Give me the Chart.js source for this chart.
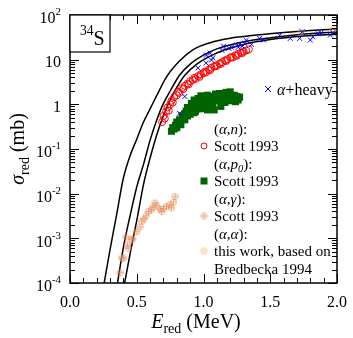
<!DOCTYPE html>
<html>
<head>
<meta charset="utf-8">
<script src="https://cdn.jsdelivr.net/npm/chart.js@4"></script>
<style>
body { margin: 0; background: #fff; }
canvas { display: block; }
</style>
</head>
<body>
<canvas id="myChart" width="353" height="338"></canvas>
<script>
// theory curves
const curveAE = [0.25, 0.30, 0.35, 0.40, 0.45, 0.50, 0.55, 0.60, 0.65, 0.72, 0.82, 0.92, 1.05, 1.2, 1.4, 1.6, 1.8, 2.0];
const curveAS = [7.9e-5, 5.6e-4, 3.5e-3, 0.0224, 0.0708, 0.166, 0.398, 0.794, 1.58, 3.98, 9.3, 16.6, 24, 30.2, 35.5, 40.7, 44.7, 49];
const curveBE = [0.35, 0.40, 0.45, 0.50, 0.55, 0.60, 0.65, 0.70, 0.76, 0.82, 0.90, 1.0, 1.1, 1.25, 1.45, 1.7, 2.0];
const curveBS = [7.9e-5, 6.3e-4, 3.2e-3, 0.0141, 0.0447, 0.158, 0.447, 1.05, 2.24, 4.47, 7.94, 12.6, 17.4, 23.4, 29.5, 36.3, 41.7];
const curveCE = [0.40, 0.45, 0.50, 0.55, 0.60, 0.65, 0.70, 0.75, 0.80, 0.86, 0.95, 1.05, 1.15, 1.3, 1.5, 1.75, 2.0];
const curveCS = [7.1e-5, 4.5e-4, 2.5e-3, 0.0158, 0.063, 0.209, 0.562, 1.26, 2.4, 4.47, 7.94, 12.0, 16.2, 21.9, 28.2, 33.9, 37.2];

// (a,n) Scott 1993
const redE = [0.69, 0.70, 0.71, 0.72, 0.73, 0.74, 0.75, 0.76, 0.77, 0.78, 0.80, 0.81, 0.82, 0.84, 0.85, 0.86, 0.88, 0.89, 0.90, 0.92, 0.93, 0.94, 0.96, 0.97, 0.98, 1.00, 1.01, 1.02, 1.04, 1.05, 1.06, 1.08, 1.09, 1.10, 1.12, 1.13, 1.14, 1.16, 1.17, 1.18, 1.20, 1.21, 1.22, 1.24, 1.25, 1.26, 1.28, 1.29, 1.30, 1.32, 1.34];
const redS = [0.40, 0.55, 0.48, 0.70, 0.85, 0.72, 1.0, 1.2, 1.1, 1.45, 1.6, 1.9, 1.8, 2.3, 2.2, 2.6, 2.9, 2.8, 3.3, 3.5, 3.9, 3.7, 4.3, 4.1, 4.7, 5.0, 5.4, 5.2, 6.0, 5.8, 6.6, 7.0, 7.4, 7.2, 8.2, 8.0, 8.8, 9.6, 9.3, 10.2, 11.0, 11.5, 11.2, 12.6, 12.2, 13.5, 14.3, 14.0, 15.2, 16.0, 17.0];

// (a,p0) Scott 1993
const greenE = [0.76, 0.77, 0.78, 0.79, 0.80, 0.80, 0.81, 0.82, 0.83, 0.83, 0.84, 0.85, 0.86, 0.86, 0.87, 0.88, 0.88, 0.89, 0.90, 0.90, 0.91, 0.92, 0.93, 0.93, 0.94, 0.95, 0.95, 0.96, 0.97, 0.98, 0.99, 0.99, 1.00, 1.01, 1.02, 1.03, 1.03, 1.04, 1.05, 1.06, 1.07, 1.08, 1.08, 1.09, 1.10, 1.11, 1.12, 1.13, 1.14, 1.15, 1.16, 1.17, 1.18, 1.19, 1.20, 1.21, 1.22, 1.23, 1.24, 1.25, 1.26, 1.27];
const greenS = [0.25, 0.30, 0.28, 0.34, 0.40, 0.30, 0.36, 0.45, 0.42, 0.35, 0.55, 0.50, 0.62, 0.45, 0.70, 0.85, 0.55, 0.65, 0.78, 0.60, 1.05, 0.90, 1.25, 0.65, 0.70, 1.00, 0.80, 1.35, 0.80, 1.55, 1.10, 0.80, 1.45, 0.95, 1.30, 1.60, 0.75, 1.05, 1.25, 1.50, 0.90, 1.30, 0.75, 1.70, 1.20, 1.45, 1.75, 0.90, 1.30, 1.60, 1.10, 1.85, 1.35, 1.55, 1.90, 1.20, 1.40, 1.60, 1.15, 1.50, 1.25, 1.45];

// (a,g) Scott 1993
const gammaE = [0.375, 0.387, 0.40, 0.42, 0.43, 0.435, 0.46, 0.47, 0.50, 0.524, 0.537, 0.554, 0.57, 0.587, 0.61, 0.62, 0.637, 0.65, 0.674, 0.687, 0.70, 0.724, 0.749, 0.76, 0.775, 0.787];
const gammaS = [1.7e-4, 3.6e-4, 3.6e-4, 1.07e-3, 7.1e-4, 6.0e-4, 9.6e-4, 9.6e-4, 1.4e-3, 1.8e-3, 2.4e-3, 2.7e-3, 3.2e-3, 4.0e-3, 4.3e-3, 5.0e-3, 6.2e-3, 5.4e-3, 4.5e-3, 4.0e-3, 4.6e-3, 5.2e-3, 5.6e-3, 4.8e-3, 6.5e-3, 8.6e-3];

// (a,a) this work
const alphaE = [1.73, 1.97];
const alphaS = [42, 48.5];

// a+heavy
const blueE = [0.82, 0.86, 0.96, 1.02, 1.02, 1.05, 1.06, 1.07, 1.14, 1.15, 1.19, 1.21, 1.25, 1.26, 1.27, 1.29, 1.31, 1.32, 1.36, 1.42, 1.45, 1.57, 1.65, 1.72, 1.74, 1.80, 1.82, 1.86, 1.88, 1.95, 1.97];
const blueS = [0.63, 1.5, 6.5, 8.4, 12.5, 14, 9.8, 11, 16, 20, 18, 19, 21, 19, 22, 20, 23, 27, 22, 30, 27.5, 35, 30, 30, 42, 27.5, 32.5, 38, 39, 35.5, 40];

// axes
const xTicks = [0, 0.5, 1.0, 1.5, 2.0];
const xTickLabels = ['0.0', '0.5', '1.0', '1.5', '2.0'];
const yTicks = [1e-4, 1e-3, 1e-2, 1e-1, 1, 10, 100];
const yTickBase = ['10', '10', '10', '10', '1', '10', '10'];
const yTickExp = ['-4', '-3', '-2', '-1', '', '', '2'];

const FONT = '"Liberation Serif", "DejaVu Serif", serif';

function pts(xs, ys) {
    return xs.map(function (x, i) { return { x: x, y: ys[i] }; });
}

// circle with a plus or a cross in it
function markImg(color, kind, r) {
    const c = document.createElement('canvas');
    const s = 2 * r + 3;
    c.width = s; c.height = s;
    const g = c.getContext('2d');
    const m = s / 2;
    g.strokeStyle = color;
    g.lineWidth = 0.9;
    g.beginPath();
    g.arc(m, m, r, 0, 2 * Math.PI);
    g.stroke();
    g.beginPath();
    if (kind === 'plus') {
        g.moveTo(m - r, m); g.lineTo(m + r, m);
        g.moveTo(m, m - r); g.lineTo(m, m + r);
    } else {
        const d = r * 0.707;
        g.moveTo(m - d, m - d); g.lineTo(m + d, m + d);
        g.moveTo(m - d, m + d); g.lineTo(m + d, m - d);
    }
    g.stroke();
    return c;
}

const gammaMark = markImg('rgba(228,140,90,0.8)', 'plus', 3);
const alphaMark = markImg('rgba(250,185,100,0.9)', 'cross', 3);

// text in pieces: flags i = italic, b = subscript, p = superscript
function rich(ctx, segs, x, y, size, draw) {
    let cx = x;
    segs.forEach(function (s) {
        const f = s[1] || '';
        let fs = size, dy = 0;
        if (f.indexOf('b') >= 0) { fs = size * 0.7; dy = size * 0.25; }
        if (f.indexOf('p') >= 0) { fs = size * 0.68; dy = -size * 0.5; }
        ctx.font = (f.indexOf('i') >= 0 ? 'italic ' : '') + fs + 'px ' + FONT;
        if (draw) ctx.fillText(s[0], cx, y + dy);
        cx += ctx.measureText(s[0]).width;
    });
    return cx - x;
}

const decorPlugin = {
    id: 'decor',
    afterDraw: function (chart) {
        const ctx = chart.ctx;
        const a = chart.chartArea;
        const xs = chart.scales.x, ys = chart.scales.y;
        ctx.save();
        ctx.fillStyle = '#000';
        ctx.strokeStyle = '#000';
        ctx.textBaseline = 'alphabetic';

        // ticks, inward on all four sides
        ctx.lineWidth = 1;
        ctx.beginPath();
        for (let i = 0; i <= 20; i++) {
            const px = Math.round(xs.getPixelForValue(i / 10)) + 0.5;
            const len = (i % 5 === 0) ? 9 : 5;
            ctx.moveTo(px, a.bottom); ctx.lineTo(px, a.bottom - len);
            ctx.moveTo(px, a.top); ctx.lineTo(px, a.top + len);
        }
        yTicks.forEach(function (d, k) {
            const py = Math.round(ys.getPixelForValue(d)) + 0.5;
            ctx.moveTo(a.left, py); ctx.lineTo(a.left + 9, py);
            ctx.moveTo(a.right, py); ctx.lineTo(a.right - 9, py);
            if (k < yTicks.length - 1) {
                for (let m = 2; m <= 9; m++) {
                    const q = Math.round(ys.getPixelForValue(m * d)) + 0.5;
                    ctx.moveTo(a.left, q); ctx.lineTo(a.left + 5, q);
                    ctx.moveTo(a.right, q); ctx.lineTo(a.right - 5, q);
                }
            }
        });
        ctx.stroke();

        // frame
        ctx.lineWidth = 1.5;
        ctx.strokeRect(a.left, a.top, a.right - a.left, a.bottom - a.top);

        // x tick labels
        ctx.font = '16px ' + FONT;
        ctx.textAlign = 'center';
        xTicks.forEach(function (v, i) {
            ctx.fillText(xTickLabels[i], xs.getPixelForValue(v), 306.5);
        });

        // y tick labels
        ctx.textAlign = 'left';
        yTicks.forEach(function (v, i) {
            const py = ys.getPixelForValue(v);
            const segs = [[yTickBase[i], '']];
            if (yTickExp[i]) segs.push([yTickExp[i], 'p']);
            const w = rich(ctx, segs, 0, 0, 16, false);
            const base = yTickExp[i] ? py + 8.3 : py + 7.5;
            rich(ctx, segs, 61 - w, base, 16, true);
        });

        // axis titles
        const xt = [['E', 'i'], ['red', 'b'], [' (MeV)', '']];
        const wx = rich(ctx, xt, 0, 0, 20, false);
        rich(ctx, xt, 196 - wx / 2, 328, 20, true);

        const yt = [['σ', 'i'], ['red', 'b'], [' (mb)', '']];
        const wy = rich(ctx, yt, 0, 0, 20, false);
        ctx.save();
        ctx.translate(24, 149);
        ctx.rotate(-Math.PI / 2);
        rich(ctx, yt, -wy / 2, 0, 20, true);
        ctx.restore();

        // 34S box
        ctx.fillStyle = '#fff';
        ctx.fillRect(a.left, a.top, 40, 37);
        ctx.lineWidth = 1.2;
        ctx.strokeRect(a.left, a.top, 40, 37);
        ctx.fillStyle = '#000';
        rich(ctx, [['34', 'p'], ['S', '']], 80, 45, 20, true);

        // legend
        const lx = 214, sx = 204;
        ctx.lineWidth = 1;
        ctx.strokeStyle = '#0000ff';
        ctx.beginPath();
        ctx.moveTo(265, 86); ctx.lineTo(271, 92);
        ctx.moveTo(265, 92); ctx.lineTo(271, 86);
        ctx.stroke();
        rich(ctx, [['α', 'i'], ['+heavy', '']], 277, 94.5, 16, true);

        const rows = [
            [['(', ''], ['α', 'i'], [',', ''], ['n', 'i'], ['):', '']],
            [['Scott 1993', '']],
            [['(', ''], ['α', 'i'], [',', ''], ['p', 'i'], ['0', 'ib'], ['):', '']],
            [['Scott 1993', '']],
            [['(', ''], ['α', 'i'], [',', ''], ['γ', 'i'], ['):', '']],
            [['Scott 1993', '']],
            [['(', ''], ['α', 'i'], [',', ''], ['α', 'i'], ['):', '']],
            [['this work, based on', '']],
            [['Bredbecka 1994', '']]
        ];
        rows.forEach(function (r, i) {
            rich(ctx, r, lx, 133.5 + i * 17.5, 15, true);
        });
        const symY = function (i) { return 128.5 + i * 17.5; };
        ctx.strokeStyle = '#ff0000';
        ctx.beginPath();
        ctx.arc(sx, symY(1), 3, 0, 2 * Math.PI);
        ctx.stroke();
        ctx.fillStyle = '#006400';
        ctx.fillRect(sx - 3.5, symY(3) - 3.5, 7, 7);
        ctx.drawImage(gammaMark, sx - gammaMark.width / 2, symY(5) - gammaMark.height / 2);
        ctx.drawImage(alphaMark, sx - alphaMark.width / 2, symY(7) - alphaMark.height / 2);

        ctx.restore();
    }
};

const ctx = document.getElementById('myChart').getContext('2d');
const myChart = new Chart(ctx, {
    type: 'scatter',
    data: {
        datasets: [
            {
                label: 'α+heavy',
                data: pts(blueE, blueS),
                pointStyle: 'crossRot',
                pointRadius: 3.5,
                borderColor: '#0000ff',
                borderWidth: 1
            },
            {
                label: '(α,n) Scott 1993',
                data: pts(redE, redS),
                pointStyle: 'circle',
                pointRadius: 3.5,
                borderColor: '#ff0000',
                backgroundColor: 'rgba(0,0,0,0)',
                borderWidth: 1
            },
            {
                label: '(α,p0) Scott 1993',
                data: pts(greenE, greenS),
                pointStyle: 'rect',
                pointRadius: 5,
                borderColor: '#006400',
                backgroundColor: '#006400',
                borderWidth: 0
            },
            {
                label: '(α,γ) Scott 1993',
                data: pts(gammaE, gammaS),
                pointStyle: gammaMark
            },
            {
                label: '(α,α) this work',
                data: pts(alphaE, alphaS),
                pointStyle: alphaMark
            },
            {
                label: 'curve A',
                data: pts(curveAE, curveAS),
                showLine: true,
                borderColor: '#000',
                borderWidth: 1.5,
                pointRadius: 0,
                cubicInterpolationMode: 'monotone',
                fill: false
            },
            {
                label: 'curve B',
                data: pts(curveBE, curveBS),
                showLine: true,
                borderColor: '#000',
                borderWidth: 1.5,
                pointRadius: 0,
                cubicInterpolationMode: 'monotone',
                fill: false
            },
            {
                label: 'curve C',
                data: pts(curveCE, curveCS),
                showLine: true,
                borderColor: '#000',
                borderWidth: 1.5,
                pointRadius: 0,
                cubicInterpolationMode: 'monotone',
                fill: false
            }
        ]
    },
    options: {
        responsive: false,
        animation: false,
        layout: { padding: { left: 70, top: 15, right: 16, bottom: 55 } },
        scales: {
            x: { type: 'linear', min: 0, max: 2, display: false },
            y: { type: 'logarithmic', min: 1e-4, max: 100, display: false }
        },
        plugins: {
            legend: { display: false },
            tooltip: { enabled: false }
        }
    },
    plugins: [decorPlugin]
});
</script>
</body>
</html>
